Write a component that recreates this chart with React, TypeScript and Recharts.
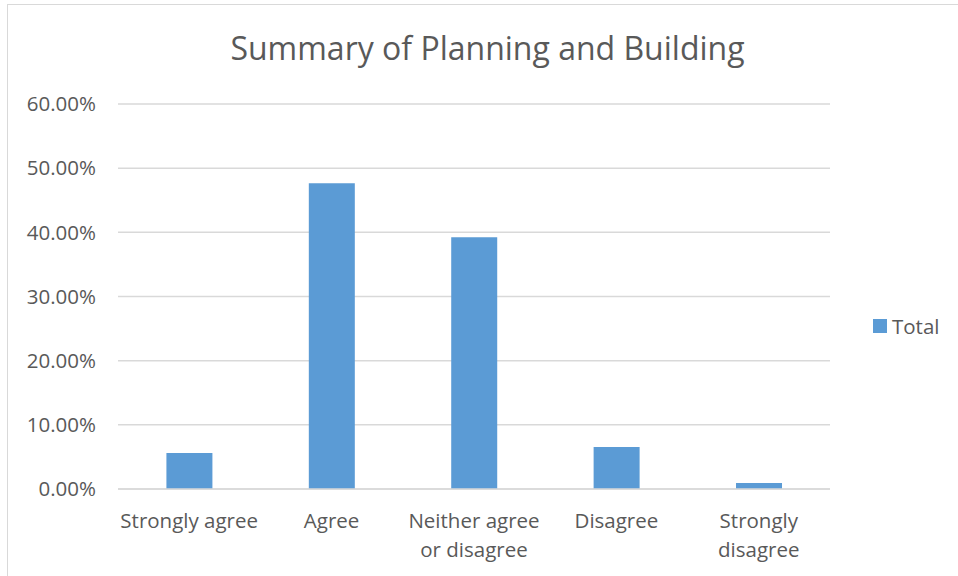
import React from "react";
import { BarChart, Bar, XAxis, YAxis, CartesianGrid } from "recharts";

const categories = [
  "Strongly agree",
  "Agree",
  "Neither agree\nor disagree",
  "Disagree",
  "Strongly\ndisagree",
];
const totals = [0.0561, 0.4766, 0.3925, 0.0654, 0.0093];
const yTicks = [0, 0.1, 0.2, 0.3, 0.4, 0.5, 0.6];
const seriesName = "Total";

const data = categories.map((c, i) => ({ name: c, Total: totals[i] }));

const TEXT = "#595959";
const BLUE = "#5B9BD5";
const FONT = "'Open Sans', 'Noto Sans', sans-serif";

const CategoryTick = (props: any) => {
  const { x, y, payload } = props;
  const lines = String(payload.value).split("\n");
  return (
    <text x={x} y={y} textAnchor="middle" fill={TEXT} fontSize={20.5} fontFamily={FONT}>
      {lines.map((l, i) => (
        <tspan key={i} x={x} dy={i === 0 ? 31 : 29}>
          {l}
        </tspan>
      ))}
    </text>
  );
};

export default function App() {
  return (
    <div style={{ position: "absolute", left: 0, top: 0, width: 958, height: 576, background: "#fff", overflow: "hidden" }}>
      <div style={{ position: "absolute", left: 7, top: 4, width: 960, height: 600, border: "1px solid #D9D9D9" }} />
      <div
        style={{
          position: "absolute",
          left: 0,
          top: 26,
          width: 975,
          textAlign: "center",
          fontFamily: FONT,
          fontSize: 32,
          color: TEXT,
        }}
      >
        Summary of Planning and Building
      </div>
      <div style={{ position: "absolute", left: 0, top: 0 }}>
        <BarChart width={958} height={576} data={data} margin={{ top: 104, right: 128, bottom: 0, left: 18 }} barCategoryGap="34%">
          <CartesianGrid vertical={false} stroke="#D9D9D9" strokeWidth={1.5} />
          <XAxis
            dataKey="name"
            interval={0}
            tick={<CategoryTick />}
            tickLine={false}
            axisLine={{ stroke: "#D9D9D9", strokeWidth: 1.5 }}
            height={87}
          />
          <YAxis
            width={100}
            domain={[0, 0.6]}
            ticks={yTicks}
            tickFormatter={(v: number) => (v * 100).toFixed(2) + "%"}
            tick={{ fill: TEXT, fontSize: 20.5, fontFamily: FONT }}
            tickLine={false}
            axisLine={false}
            tickMargin={16}
          />
          <Bar dataKey="Total" fill={BLUE} isAnimationActive={false} />
        </BarChart>
      </div>
      <div
        style={{
          position: "absolute",
          left: 873,
          top: 312,
          display: "flex",
          alignItems: "center",
          fontFamily: FONT,
          fontSize: 20.5,
          color: TEXT,
        }}
      >
        <span style={{ width: 14, height: 14, background: BLUE, marginRight: 5, display: "inline-block" }} />
        {seriesName}
      </div>
    </div>
  );
}
